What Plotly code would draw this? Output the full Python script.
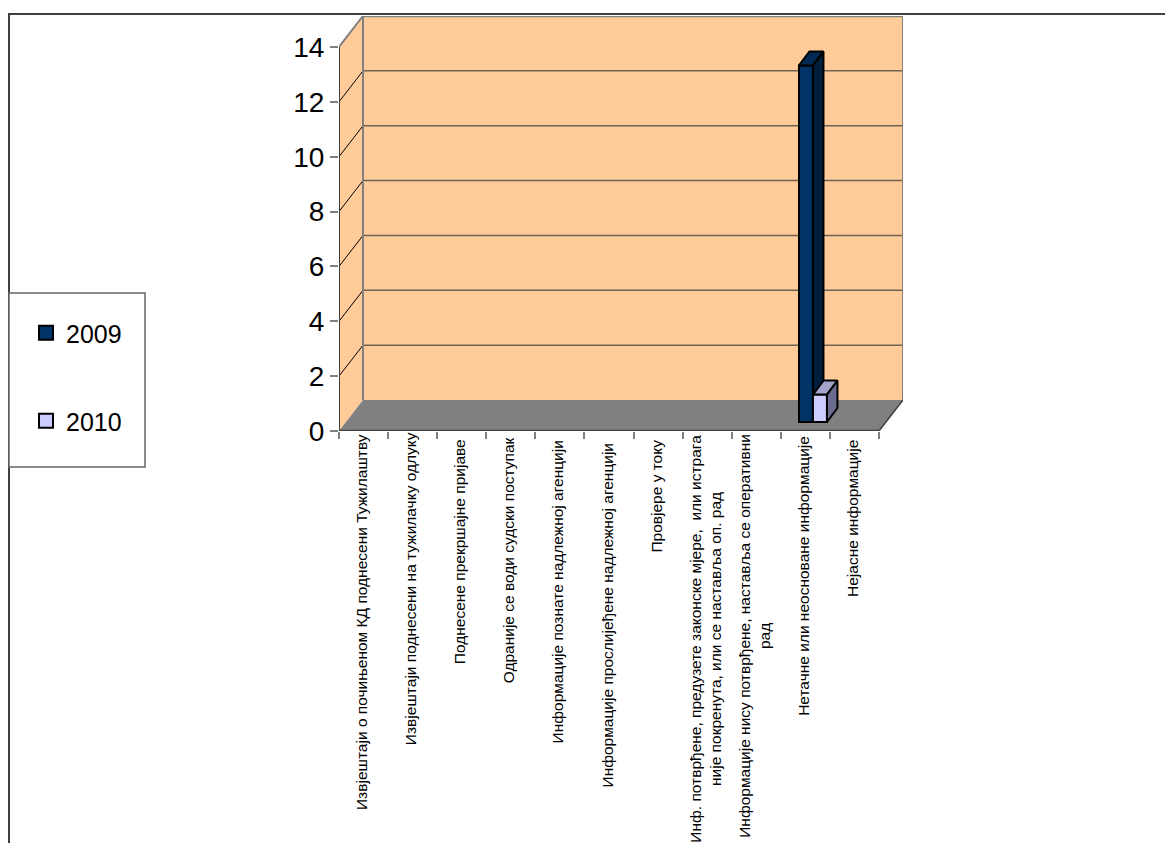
import plotly.graph_objects as go

categories = [
    "Извјештаји о почињеном КД поднесени Тужилаштву",
    "Извјештаји поднесени на тужилачку одлуку",
    "Поднесене прекршајне пријаве",
    "Одраније се води судски поступак",
    "Информације познате надлежној агенцији",
    "Информације прослијеђене надлежној агенцији",
    "Провјере у току",
    "Инф. потврђене, предузете законске мјере,  или истрага<br>није покренута, или се наставља оп. рад",
    "Информације нису потврђене, наставља се оперативни<br>рад",
    "Нетачне или неосноване информације",
    "Нејасне информације",
]
values_2009 = [0, 0, 0, 0, 0, 0, 0, 0, 0, 13, 0]
values_2010 = [0, 0, 0, 0, 0, 0, 0, 0, 0, 1, 0]
y_ticks = [0, 2, 4, 6, 8, 10, 12, 14]
label_centers = [622, 589, 552, 560, 592, 615, 496, 639, 636, 576, 518]

W, H = 1165, 843
X0, XW, YF = 339, 49.09, 431     # front plane of the axes, pixels
UY = 27.43                       # pixels per value unit
DXP, DYP = 24, 31                # wall depth, pixels
DX, DY = DXP / XW, DYP / UY
N = len(categories)
XMIN, XMAX = -0.5, N - 0.5
YMAX = 14
BASE = 9 / UY                    # bars stand inside the floor
BAR_W = 14 / XW
BDX, BDY = 10.5 / XW, 14 / UY    # bar depth
EDGE = "#000000"


def px(x):
    return x / W


def py(y):
    return 1 - y / H


fig = go.Figure()


def add_series(values, name, offset, front, top, side, z, legend):
    xs = list(range(N))
    fig.add_trace(go.Bar(
        x=xs, y=[v if v else None for v in values], base=[BASE] * N, width=BAR_W, offset=offset,
        marker=dict(color=front, line=dict(color=EDGE, width=2)),
        name=name, showlegend=False, zorder=z, hoverinfo="skip"))
    for i, v in enumerate(values):
        if not v:
            continue
        l, r = i + offset, i + offset + BAR_W
        b, t = BASE, BASE + v
        fig.add_trace(go.Scatter(
            x=[l, r, r + BDX, l + BDX, l], y=[t, t, t + BDY, t + BDY, t],
            mode="lines", fill="toself", fillcolor=top,
            line=dict(color=EDGE, width=2), showlegend=False,
            zorder=z + 1, hoverinfo="skip"))
        fig.add_trace(go.Scatter(
            x=[r, r + BDX, r + BDX, r, r], y=[t, t + BDY, b + BDY, b, t],
            mode="lines", fill="toself", fillcolor=side,
            line=dict(color=EDGE, width=2), showlegend=False,
            zorder=z + 1, hoverinfo="skip"))
    fig.add_trace(go.Scatter(
        x=[None], y=[None], mode="markers", name=name, legend=legend,
        marker=dict(symbol="square", size=14, color=front,
                    line=dict(color=EDGE, width=2)),
        showlegend=True))


add_series(values_2009, "2009", -0.13, "#003366", "#002a55", "#001f3d", 1, "legend")
add_series(values_2010, "2010", 0.155, "#ccccff", "#a3a3cc", "#6b6b8f", 3, "legend2")

# invisible page-height axis that carries the rotated category labels
fig.add_trace(go.Scatter(x=[None], y=[None], yaxis="y2", showlegend=False, hoverinfo="skip"))

WALL = "#ffcc99"
GREY = "#808080"
DARK = "#404040"
shapes = []


def poly(points, fill, line=None, width=1):
    path = "M" + "L".join(f"{x},{y}" for x, y in points) + "Z"
    shapes.append(dict(type="path", path=path, xref="x", yref="y", layer="below",
                       fillcolor=fill, line=dict(color=line or fill, width=width if line else 0)))


def seg(x0, y0, x1, y1, color, width):
    shapes.append(dict(type="line", x0=x0, y0=y0, x1=x1, y1=y1, xref="x", yref="y",
                       layer="below", line=dict(color=color, width=width)))


poly([(XMIN + DX, DY), (XMAX + DX, DY), (XMAX + DX, YMAX + DY), (XMIN + DX, YMAX + DY)], WALL)
poly([(XMIN, 0), (XMIN + DX, DY), (XMIN + DX, YMAX + DY), (XMIN, YMAX)], WALL)
poly([(XMIN, 0), (XMAX, 0), (XMAX + DX, DY), (XMIN + DX, DY)], GREY)
for t in y_ticks[1:-1]:
    seg(XMIN + DX, t + DY, XMAX + DX, t + DY, "#6f6255", 1.5)
    seg(XMIN, t, XMIN + DX, t + DY, "#000000", 1)
seg(XMIN + DX, DY, XMIN + DX, YMAX + DY, GREY, 2)
seg(XMAX + DX, DY, XMAX + DX, YMAX + DY, GREY, 2)
seg(XMIN + DX, YMAX + DY, XMAX + DX, YMAX + DY, GREY, 2.5)
seg(XMIN, YMAX, XMIN + DX, YMAX + DY, GREY, 2)
seg(XMIN, 0, XMIN, YMAX, DARK, 2)
seg(XMIN, 0, XMAX, 0, DARK, 2.5)
seg(XMAX, 0, XMAX + DX, DY, DARK, 1.5)

# chart frame and legend box
frame = [
    dict(type="line", x0=px(8), x1=1, y0=py(14), y1=py(14), line=dict(color=DARK, width=2)),
    dict(type="line", x0=px(9), x1=px(9), y0=py(14), y1=0, line=dict(color=DARK, width=2)),
    dict(type="rect", x0=px(9), x1=px(145), y0=py(293), y1=py(467),
         fillcolor="white", line=dict(color="#666666", width=1.5)),
]
for s in frame:
    s.update(xref="paper", yref="paper", layer="below")
shapes = frame + shapes

annotations = [
    dict(x=i, y=center, xref="x", yref="y2", xshift=-2.5, text=c, textangle=-90, showarrow=False,
         xanchor="center", yanchor="middle", align="center",
         font=dict(family="Liberation Sans", size=15.5, color="black"))
    for i, (c, center) in enumerate(zip(categories, label_centers))
]

legend_font = dict(family="Liberation Sans", size=25, color="black")
fig.update_layout(
    width=W, height=H, autosize=False,
    margin=dict(l=0, r=0, t=0, b=0, autoexpand=False),
    paper_bgcolor="white", plot_bgcolor="rgba(0,0,0,0)",
    barmode="overlay",
    shapes=shapes, annotations=annotations,
    xaxis=dict(domain=[px(X0), px(X0 + XW * N + DXP)], range=[XMIN, XMAX + DX],
               tickmode="array", tickvals=[i - 0.5 for i in range(N + 1)],
               ticks="outside", ticklen=7, tickcolor=GREY, tickwidth=2,
               showticklabels=False, showgrid=False, zeroline=False, showline=False),
    yaxis=dict(domain=[py(YF), py(YF - UY * YMAX - DYP)], range=[0, YMAX + DY],
               tickmode="array", tickvals=y_ticks, ticks="outside", ticklen=8,
               tickcolor=GREY, tickwidth=2, ticklabelstandoff=0,
               tickfont=dict(family="Liberation Sans", size=28, color="black"),
               showgrid=False, zeroline=False, showline=False),
    yaxis2=dict(domain=[0, 1], range=[H, 0], anchor="x", visible=False, fixedrange=True),
    legend=dict(x=px(26), y=py(333), xanchor="left", yanchor="middle",
                bgcolor="rgba(0,0,0,0)", font=legend_font, itemwidth=30),
    legend2=dict(x=px(26), y=py(421), xanchor="left", yanchor="middle",
                 bgcolor="rgba(0,0,0,0)", font=legend_font, itemwidth=30),
)

fig.write_html("out.html", config=dict(displayModeBar=False),
               post_script="document.body.style.margin='0';document.body.style.overflow='hidden';")
